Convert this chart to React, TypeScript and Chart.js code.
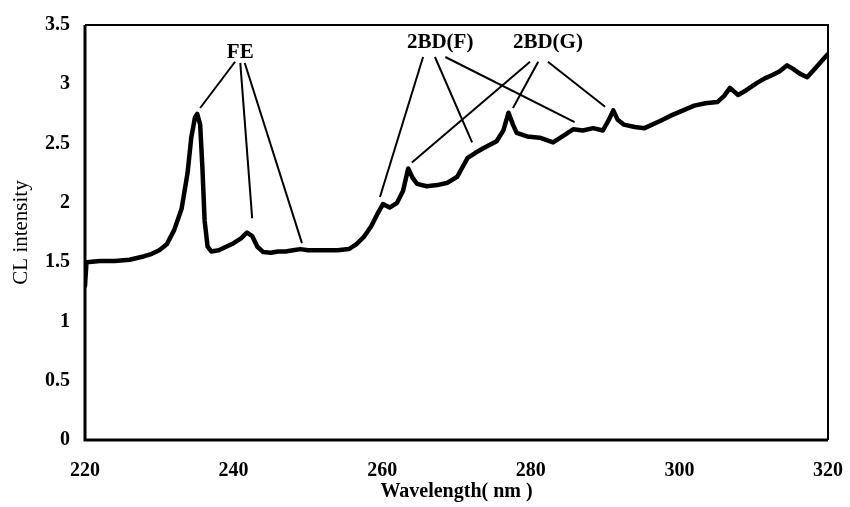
import React, { useEffect, useRef } from "react";
import { Chart, registerables } from "chart.js";

Chart.register(...registerables);

// ---- data ----
const wavelengths = [
  220.0, 220.2, 222, 224, 226, 228, 229, 230, 231, 232, 233, 233.8, 234.3, 234.8, 235.1, 235.5, 235.8, 236.1, 236.5, 237,
  238, 239, 240, 241, 241.8, 242.5, 243.2, 244, 245, 246, 247, 248, 249, 250, 252, 254, 255.5, 256.5, 257.5, 258.5,
  259.3, 260.1, 261, 262, 262.8, 263.5, 264.1, 264.7, 266, 267.4, 268.8, 270.1, 270.8, 271.5, 272.5, 273.6, 274.5, 275.4,
  276.3, 277.0, 277.6, 278.1, 279.5, 281.2, 283, 284, 285.7, 287, 288.4, 289.7, 290.5, 291.1, 291.7, 292.5, 294, 295.3,
  297.4, 299, 300.5, 302, 303.5, 305.1, 306.0, 306.8, 307.9, 309.0, 310.4, 311.5, 312.6, 313.5, 314.5, 315.3, 316.2, 317.2,
  318.5, 319.9,
];
const intensities = [
  1.3, 1.5, 1.51, 1.51, 1.52, 1.55, 1.57, 1.6, 1.65, 1.77, 1.95, 2.25, 2.55, 2.72, 2.75, 2.66, 2.3, 1.85, 1.63, 1.59,
  1.6, 1.63, 1.66, 1.7, 1.75, 1.72, 1.63, 1.585, 1.58, 1.59, 1.59, 1.6, 1.61, 1.6, 1.6, 1.6, 1.61, 1.65, 1.71, 1.8,
  1.9, 1.99, 1.96, 2.0, 2.1, 2.29, 2.21, 2.16, 2.14, 2.15, 2.17, 2.22, 2.3, 2.38, 2.42, 2.46, 2.49, 2.52,
  2.61, 2.76, 2.66, 2.59, 2.56, 2.55, 2.51, 2.55, 2.62, 2.61, 2.63, 2.61, 2.7, 2.78, 2.7, 2.66, 2.64, 2.63,
  2.69, 2.74, 2.78, 2.82, 2.84, 2.85, 2.9, 2.97, 2.91, 2.95, 3.01, 3.05, 3.08, 3.11, 3.16, 3.13, 3.09, 3.06,
  3.15, 3.25,
];

const xMin = 220;
const xMax = 320;
const xStep = 20;
const yMin = 0;
const yMax = 3.5;
const yStep = 0.5;

const xTitle = "Wavelength( nm )";
const yTitle = "CL intensity";

// peak labels and their leader lines (data coordinates)
const peakLabels = ["FE", "2BD(F)", "2BD(G)"];
const peakLabelX = [240.9, 267.8, 282.3];
const peakLabelY = [3.27, 3.35, 3.35];
const leaderFromX = [[240.2, 240.9, 241.5], [265.5, 267.1, 268.5], [279.9, 281.0, 282.3]];
const leaderFromY = [[3.19, 3.18, 3.18], [3.23, 3.23, 3.23], [3.19, 3.19, 3.19]];
const leaderToX = [[235.5, 242.5, 249.2], [259.7, 272.1, 285.9], [264.0, 277.6, 290.0]];
const leaderToY = [[2.8, 1.87, 1.66], [2.05, 2.51, 2.68], [2.34, 2.8, 2.81]];

const FONT = "'Liberation Serif', 'Times New Roman', serif";

const framePlugin = {
  id: "frame",
  afterDatasetsDraw(chart: any) {
    const { ctx, chartArea } = chart;
    const { left, right, top, bottom } = chartArea;
    ctx.save();
    ctx.strokeStyle = "#000";
    ctx.lineWidth = 2;
    ctx.beginPath();
    ctx.moveTo(left, top);
    ctx.lineTo(right, top);
    ctx.lineTo(right, bottom);
    ctx.stroke();
    ctx.lineWidth = 3;
    ctx.beginPath();
    ctx.moveTo(left, top);
    ctx.lineTo(left, bottom);
    ctx.lineTo(right, bottom);
    ctx.stroke();
    ctx.restore();
  },
};

const peakLabelPlugin = {
  id: "peakLabels",
  afterDatasetsDraw(chart: any) {
    const { ctx } = chart;
    const xs = chart.scales.x;
    const ys = chart.scales.y;
    ctx.save();
    ctx.strokeStyle = "#000";
    ctx.lineWidth = 2;
    for (let g = 0; g < peakLabels.length; g++) {
      for (let i = 0; i < leaderFromX[g].length; i++) {
        ctx.beginPath();
        ctx.moveTo(xs.getPixelForValue(leaderFromX[g][i]), ys.getPixelForValue(leaderFromY[g][i]));
        ctx.lineTo(xs.getPixelForValue(leaderToX[g][i]), ys.getPixelForValue(leaderToY[g][i]));
        ctx.stroke();
      }
      ctx.fillStyle = "#000";
      ctx.font = `bold 21px ${FONT}`;
      ctx.textAlign = "center";
      ctx.textBaseline = "middle";
      ctx.fillText(peakLabels[g], xs.getPixelForValue(peakLabelX[g]), ys.getPixelForValue(peakLabelY[g]));
    }
    ctx.restore();
  },
};

export default function App() {
  const canvasRef = useRef<HTMLCanvasElement | null>(null);

  useEffect(() => {
    document.body.style.margin = "0";
    const canvas = canvasRef.current;
    if (!canvas) return;
    const points = wavelengths.map((w, i) => ({ x: w, y: intensities[i] }));
    const chart = new Chart(canvas, {
      type: "line",
      data: {
        datasets: [
          {
            data: points,
            borderColor: "#000",
            borderWidth: 4.5,
            pointRadius: 0,
            tension: 0,
            borderJoinStyle: "round",
            borderCapStyle: "round",
          },
        ],
      },
      options: {
        responsive: false,
        animation: false,
        devicePixelRatio: 1,
        layout: { padding: { left: 0, right: 22, top: 25, bottom: 0 } },
        plugins: { legend: { display: false }, tooltip: { enabled: false } },
        scales: {
          x: {
            type: "linear",
            min: xMin,
            max: xMax,
            afterFit: (s: any) => {
              s.height = 67;
              s.paddingLeft = 0;
              s.paddingRight = 0;
            },
            ticks: {
              stepSize: xStep,
              color: "#000",
              padding: 19,
              font: { family: FONT, size: 20, weight: "bold" },
            },
            grid: { display: false, drawTicks: false },
            border: { display: false },
            title: {
              display: true,
              text: xTitle,
              color: "#000",
              padding: { top: 0, bottom: 3 },
              font: { family: FONT, size: 20, weight: "bold" },
            },
          },
          y: {
            type: "linear",
            min: yMin,
            max: yMax,
            afterFit: (s: any) => {
              s.width = 85;
              s.paddingTop = 0;
              s.paddingBottom = 0;
            },
            ticks: {
              stepSize: yStep,
              color: "#000",
              padding: 15,
              font: { family: FONT, size: 20, weight: "bold" },
              callback: (v: any) => String(Number(v)),
            },
            grid: { display: false, drawTicks: false },
            border: { display: false },
            title: {
              display: true,
              text: yTitle,
              color: "#000",
              padding: { top: 9, bottom: 0 },
              font: { family: FONT, size: 21, weight: "normal" },
            },
          },
        },
      },
      plugins: [framePlugin, peakLabelPlugin],
    });
    return () => chart.destroy();
  }, []);

  return <canvas ref={canvasRef} width={850} height={507} style={{ display: "block" }} />;
}
